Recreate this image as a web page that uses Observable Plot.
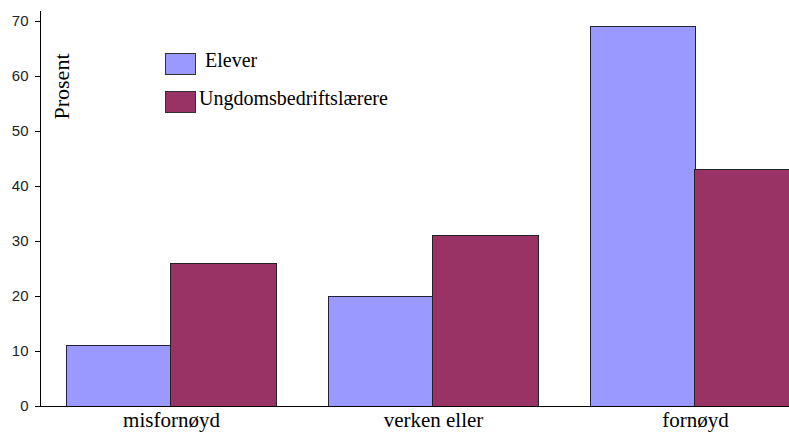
<!DOCTYPE html>
<html>
<head>
<meta charset="utf-8">
<script src="https://cdn.jsdelivr.net/npm/d3@7"></script>
<script src="https://cdn.jsdelivr.net/npm/@observablehq/plot@0.6"></script>
<style>
  html, body { margin: 0; padding: 0; background: #fff; }
  #wrap { position: relative; width: 789px; height: 434px; overflow: hidden; }
  .lg { position: absolute; font-family: "Liberation Serif", "Times New Roman", serif; font-size: 20px; color: #000; }
  .sw { position: absolute; width: 29px; height: 20px; border: 1px solid #333; }
</style>
</head>
<body>
<div id="wrap"></div>
<script>
const categories = ["misfornøyd", "verken eller", "fornøyd"];
const seriesNames = ["Elever", "Ungdomsbedriftslærere"];
const elever = [11, 20, 69];
const ungdoms = [26, 31, 43];
const yTicks = [0, 10, 20, 30, 40, 50, 60, 70];
const colors = ["#9999ff", "#993366"];
const yLabel = "Prosent";

const table = categories.map((c, i) => ({category: c, Elever: elever[i], Ungdoms: ungdoms[i]}));

const xRange = [40, 826];
const step = (xRange[1] - xRange[0]) / categories.length;
const half = step * 0.8 / 2;

const chart = Plot.plot({
  width: 789,
  height: 434,
  marginLeft: 40,
  marginRight: 0,
  marginTop: 21,
  marginBottom: 28,
  style: {background: "#fff", color: "#000"},
  x: {domain: categories, range: xRange, paddingInner: 0.2, paddingOuter: 0.1},
  y: {domain: [0, 70]},
  marks: [
    Plot.barY(table, {x: "category", y: "Elever", fill: colors[0], stroke: "#222233", strokeWidth: 1, insetRight: half, shapeRendering: "crispEdges"}),
    Plot.barY(table, {x: "category", y: "Ungdoms", fill: colors[1], stroke: "#222222", strokeWidth: 1, insetLeft: half, shapeRendering: "crispEdges"}),
    Plot.ruleY([0], {stroke: "#000", strokeWidth: 1}),
    Plot.frame({anchor: "left", stroke: "#000", insetTop: -10}),
    Plot.axisY({ticks: yTicks, tickSize: 5, tickPadding: 7, fontSize: 15, fontFamily: "Liberation Sans, Arial, sans-serif", fill: "#222", label: null}),
    Plot.axisX({tickSize: 0, tickPadding: 6, fontSize: 21, fontFamily: "Liberation Serif, Times New Roman, serif", fill: "#000", label: null}),
    Plot.text([yLabel], {frameAnchor: "top-left", dx: 13, dy: 65, rotate: -90, textAnchor: "middle", fontSize: 22, fontFamily: "Liberation Serif, Times New Roman, serif", fill: "#000"})
  ]
});

const wrap = document.getElementById("wrap");
wrap.appendChild(chart);

const legendItems = [
  {name: seriesNames[0], color: colors[0], swTop: 53, textLeft: 205, textTop: 49},
  {name: seriesNames[1], color: colors[1], swTop: 91, textLeft: 199, textTop: 87}
];
for (const it of legendItems) {
  const sw = document.createElement("div");
  sw.className = "sw";
  sw.style.left = "165px";
  sw.style.top = it.swTop + "px";
  sw.style.background = it.color;
  wrap.appendChild(sw);
  const t = document.createElement("div");
  t.className = "lg";
  t.style.left = it.textLeft + "px";
  t.style.top = it.textTop + "px";
  t.textContent = it.name;
  wrap.appendChild(t);
}
</script>
</body>
</html>
